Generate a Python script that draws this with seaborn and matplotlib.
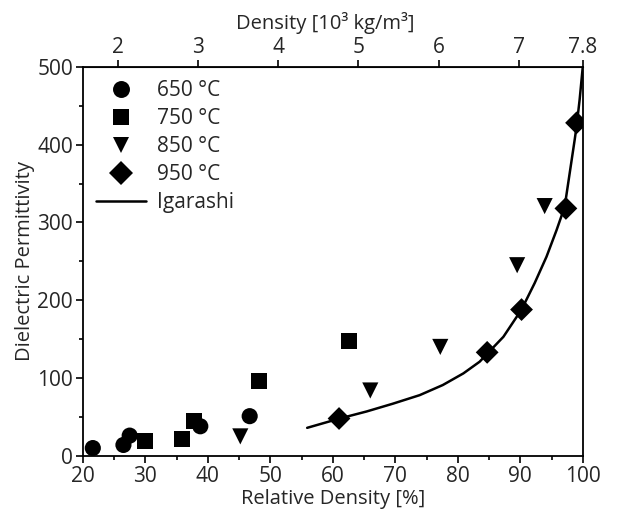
import numpy as np
import pandas as pd
import matplotlib
matplotlib.use("Agg")
import matplotlib.pyplot as plt
from matplotlib.ticker import MultipleLocator
import seaborn as sns

# Data
rel_650 = [21.6, 26.5, 27.5, 38.8, 46.7]
eps_650 = [10, 14, 26, 38, 51]

rel_750 = [30.0, 35.9, 37.8, 48.2, 62.6]
eps_750 = [19, 22, 45, 96, 148]

rel_850 = [45.2, 66.0, 77.2, 89.5, 93.9]
eps_850 = [25, 84, 140, 245, 321]

rel_950 = [61.0, 84.7, 90.2, 97.3, 99.0]
eps_950 = [48, 133, 188, 318, 428]

# Igarashi model curve
rel_iga = [55.9, 61.1, 65.4, 69.6, 73.9, 77.6, 80.9, 83.5, 84.8, 87.3, 90.2,
           92.3, 94.2, 95.8, 97.1, 97.9, 98.7, 99.0, 99.5, 100.0]
eps_iga = [36, 48, 57, 67, 78, 91, 106, 121, 132, 153, 188,
           222, 256, 290, 320, 363, 406, 423, 458, 500]

labels = ["650 °C", "750 °C", "850 °C", "950 °C"]
top_ticks = [2, 3, 4, 5, 6, 7, 7.8]
top_ticklabels = ["2", "3", "4", "5", "6", "7", "7.8"]

rows = []
for lab, xs, ys in zip(labels, [rel_650, rel_750, rel_850, rel_950],
                       [eps_650, eps_750, eps_850, eps_950]):
    for x, y in zip(xs, ys):
        rows.append({"rel": x, "eps": y, "series": lab})
df = pd.DataFrame(rows)
df_iga = pd.DataFrame({"rel": rel_iga, "eps": eps_iga})

sns.set_style("ticks")
plt.rcParams["font.family"] = ["Open Sans", "DejaVu Sans"]
plt.rcParams["font.size"] = 14.5
plt.rcParams["xtick.labelsize"] = 15
plt.rcParams["ytick.labelsize"] = 15

fig = plt.figure(figsize=(6.18, 5.18), dpi=100)
ax = fig.add_axes([0.134, 0.120, 0.809, 0.751])

sns.scatterplot(data=df, x="rel", y="eps", style="series",
                markers={"650 °C": "o", "750 °C": "s", "850 °C": "v", "950 °C": "D"},
                color="black", s=135, edgecolor="black", linewidth=0,
                ax=ax, zorder=3)
sns.lineplot(data=df_iga, x="rel", y="eps", color="black", linewidth=1.8,
             label="Igarashi", ax=ax, sort=False, zorder=2)

ax.set_xlim(20, 100)
ax.set_ylim(0, 500)
ax.xaxis.set_major_locator(MultipleLocator(10))
ax.xaxis.set_minor_locator(MultipleLocator(5))
ax.yaxis.set_major_locator(MultipleLocator(100))
ax.yaxis.set_minor_locator(MultipleLocator(50))
ax.tick_params(which="major", direction="out", length=5, width=1.2, color="black", pad=2)
ax.tick_params(which="minor", direction="out", length=3, width=1.2, color="black")
for sp in ax.spines.values():
    sp.set_linewidth(1.3)
    sp.set_color("black")
ax.set_xlabel("Relative Density [%]", labelpad=2)
ax.set_ylabel("Dielectric Permittivity", labelpad=2)

top = ax.secondary_xaxis("top", functions=(lambda r: r * 0.078, lambda d: d / 0.078))
top.set_xticks(top_ticks)
top.set_xticklabels(top_ticklabels)
top.tick_params(direction="out", length=5, width=1.2, color="black", pad=1)
fig.text(325 / 618, 1 - 29 / 518, "Density [10³ kg/m³]", fontsize=14.5,
         ha="center", va="baseline")

leg = ax.legend(loc="upper left", frameon=False, handlelength=2.4,
                labelspacing=0.33, borderaxespad=0.25, handletextpad=0.5,
                markerscale=1.05, fontsize=15)

fig.savefig("out.png", dpi=100)
